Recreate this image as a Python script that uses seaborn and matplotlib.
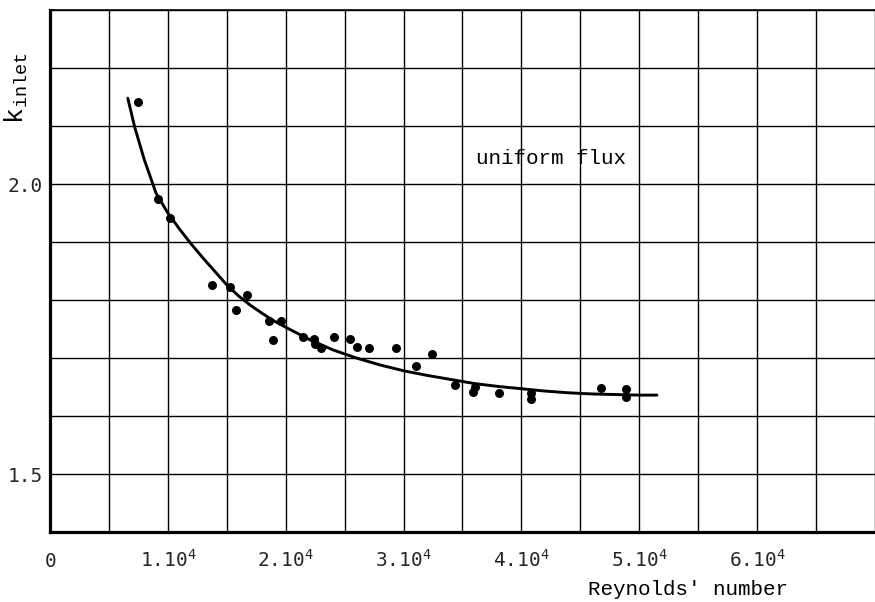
import matplotlib
matplotlib.use("Agg")
import matplotlib.pyplot as plt
from matplotlib.ticker import MultipleLocator, FixedLocator
import seaborn as sns
import pandas as pd

# Measured inlet loss coefficient vs Reynolds' number (uniform flux)
re_points = [7485, 9125, 10170, 13785, 15310, 16750, 15820, 18590, 19630, 18930,
             21470, 22400, 22460, 23020, 24070, 25480, 26070, 27030, 29380, 31070,
             32430, 34380, 35880, 36020, 38080, 40820, 40820, 46750, 48870, 48870]
k_points = [2.141, 1.974, 1.941, 1.826, 1.822, 1.808, 1.783, 1.763, 1.763, 1.731,
            1.737, 1.732, 1.725, 1.718, 1.737, 1.732, 1.719, 1.718, 1.717, 1.687,
            1.707, 1.653, 1.641, 1.650, 1.639, 1.639, 1.630, 1.649, 1.647, 1.633]

# Correlation curve drawn through the data
re_curve = [6600, 7200, 8000, 9000, 10000, 11000, 12000, 13000, 14000, 15000,
            16000, 17000, 18000, 19000, 20000, 22000, 24000, 26000, 28000, 30000,
            32000, 34000, 36000, 38000, 40000, 42000, 44000, 46000, 48000, 50000, 51500]
k_curve = [2.148, 2.097, 2.042, 1.984, 1.950, 1.922, 1.896, 1.872, 1.849, 1.826,
           1.807, 1.791, 1.777, 1.764, 1.753, 1.732, 1.714, 1.700, 1.688, 1.678,
           1.670, 1.663, 1.656, 1.651, 1.647, 1.643, 1.640, 1.638, 1.637, 1.636, 1.636]

x_tick_values = [0, 10000, 20000, 30000, 40000, 50000, 60000]
x_tick_labels = ["$0$", "$1.10^4$", "$2.10^4$", "$3.10^4$", "$4.10^4$", "$5.10^4$", "$6.10^4$"]
y_tick_values = [1.5, 2.0]
y_tick_labels = ["1.5", "2.0"]

sns.set_style("white")
plt.rcParams["font.family"] = ["DejaVu Sans Mono", "DejaVu Sans"]
plt.rcParams["mathtext.fontset"] = "custom"
plt.rcParams["mathtext.rm"] = "DejaVu Sans Mono"
plt.rcParams["mathtext.tt"] = "Liberation Mono"

pts = pd.DataFrame({"Re": re_points, "k": k_points})
curve = pd.DataFrame({"Re": re_curve, "k": k_curve})

fig = plt.figure(figsize=(8.75, 6.02), dpi=100)
ax = fig.add_axes([50 / 875, 1 - 532 / 602, 1 - 50 / 875, 522 / 602])

sns.lineplot(data=curve, x="Re", y="k", ax=ax, color="black", linewidth=2.1,
             sort=False, zorder=3)
sns.scatterplot(data=pts, x="Re", y="k", ax=ax, color="black", s=42,
                edgecolor="black", linewidth=0, zorder=4)

ax.set_xlim(0, 70000)
ax.set_ylim(1.4, 2.3)

ax.xaxis.set_major_locator(FixedLocator(x_tick_values))
ax.xaxis.set_minor_locator(MultipleLocator(5000))
ax.yaxis.set_major_locator(FixedLocator(y_tick_values))
ax.yaxis.set_minor_locator(MultipleLocator(0.1))
ax.set_xticks(x_tick_values, x_tick_labels)
ax.set_yticks(y_tick_values, y_tick_labels)

ax.grid(which="both", color="black", linewidth=1.0)
ax.set_axisbelow(True)

ax.tick_params(axis="both", which="both", length=0)
ax.tick_params(axis="x", labelsize=14, pad=25)
ax.tick_params(axis="y", labelsize=14, pad=5)
for lab in ax.get_xticklabels():
    lab.set_verticalalignment("baseline")

for side in ("left", "bottom"):
    ax.spines[side].set_linewidth(2.3)
    ax.spines[side].set_color("black")
ax.spines["top"].set_linewidth(1.2)
ax.spines["top"].set_color("black")
ax.spines["right"].set_visible(False)

ax.set_xlabel("")
ax.set_ylabel("")

ax.text(42540, 2.034, "uniform flux", family="Liberation Mono", fontsize=15,
        ha="center", va="baseline", color="black")
fig.text(688 / 875, 1 - 595 / 602, "Reynolds' number", family="Liberation Mono",
         fontsize=15, ha="center", va="baseline", color="black")
fig.text(16 / 875, 1 - 88 / 602, r"$\mathtt{k}_{\mathtt{inlet}}$", fontsize=19,
         rotation=90, ha="center", va="center", color="black")

fig.savefig("out.png", dpi=100)
